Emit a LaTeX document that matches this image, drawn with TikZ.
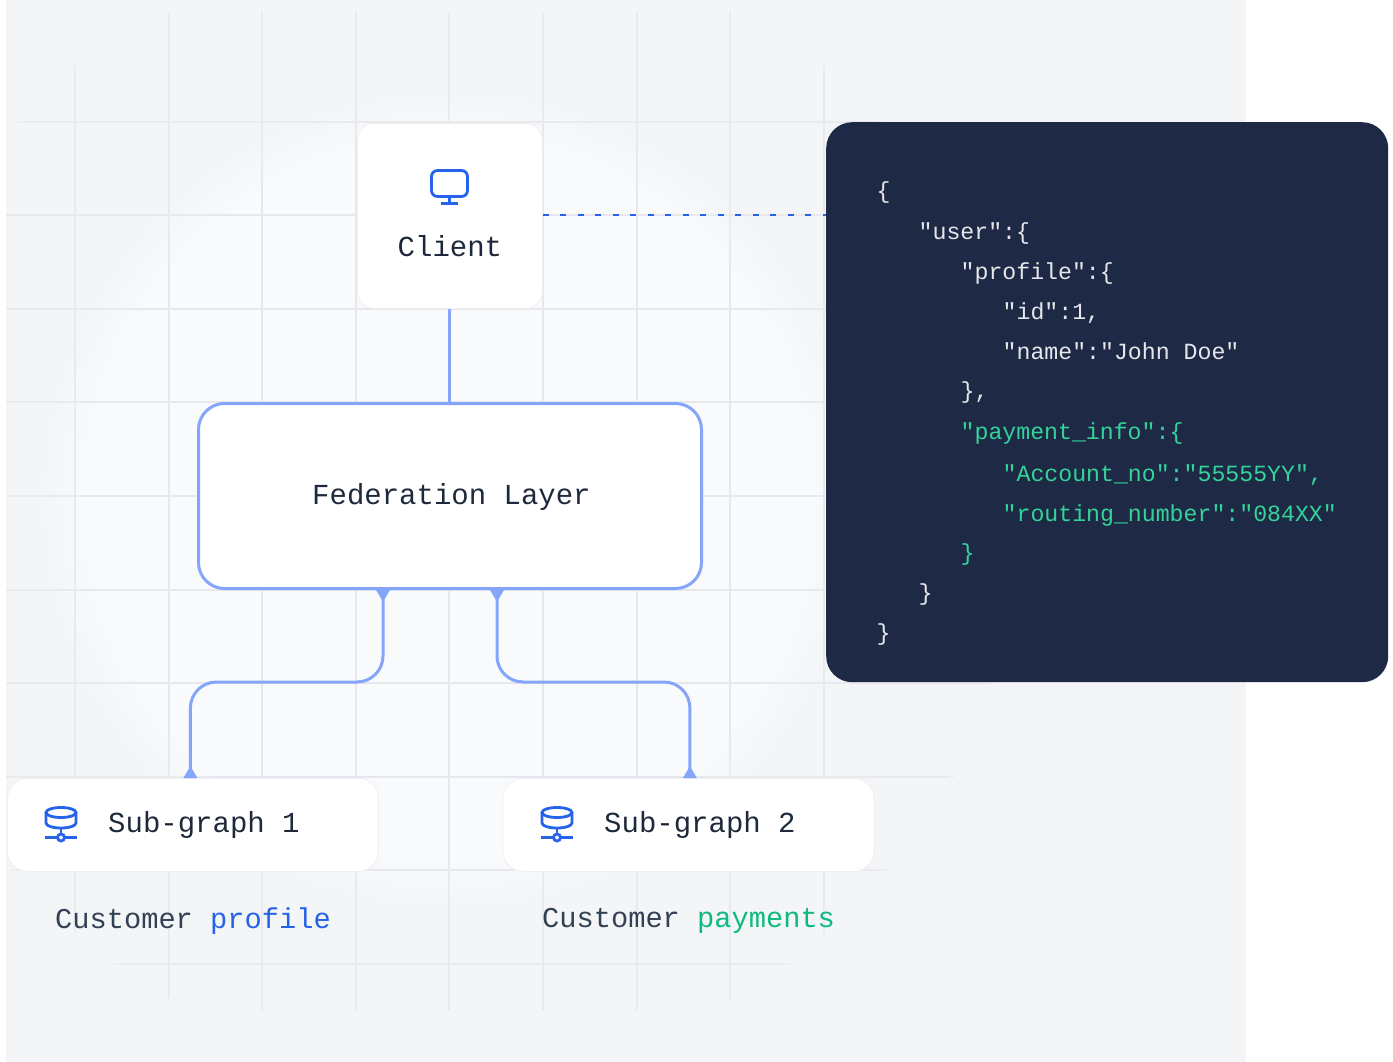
\documentclass[tikz,border=0pt]{standalone}
\usepackage{fontspec}
\setmonofont{Liberation Mono}
\usetikzlibrary{arrows.meta}
\definecolor{panelbg}{HTML}{F4F5F7}
\definecolor{panelmid}{HTML}{F9FAFB}
\definecolor{gridline}{HTML}{E6E8EE}
\definecolor{linkblue}{HTML}{84A5FA}
\definecolor{iconblue}{HTML}{2563EB}
\definecolor{inkdark}{HTML}{1E293B}
\definecolor{inkgrey}{HTML}{334155}
\definecolor{codebg}{HTML}{1E2945}
\definecolor{codelight}{HTML}{E5E7EB}
\definecolor{codegreen}{HTML}{34D399}
\definecolor{labelgreen}{HTML}{10B981}
\tikzset{
  card/.style={draw=gridline!70,fill=white,line width=.8pt,rounded corners=17pt,anchor=north west,inner sep=0pt},
  link/.style={draw=linkblue,line width=3pt,rounded corners=26pt,{Triangle[reversed,width=13pt,length=12pt]}-{Triangle[reversed,width=13pt,length=12pt]}},
  icon/.style={draw=iconblue,line width=2.8pt},
  codeline/.style={anchor=base west,inner sep=0pt,font=\ttfamily\fontsize{23.2}{28}\selectfont,text=codelight},
  title/.style={inner sep=0pt,anchor=base west,font=\ttfamily\fontsize{29}{34}\selectfont,text=inkdark},
  caption/.style={title,font=\ttfamily\fontsize{28.7}{34}\selectfont,text=inkgrey}
}
\begin{document}
\begin{tikzpicture}[x=1pt,y=-1pt]
  \useasboundingbox (0,0) rectangle (1393,1062);

  % backdrop
  \fill[panelbg] (6,0) rectangle (1246,1062);
  \begin{scope}
    \clip (6,0) rectangle (1246,1062);
    \clip (450,500) circle (575);
    \fill[panelmid] (6,0) rectangle (1246,1062);
    \foreach \gx in {75,169,262,356,449,543,637,730,824}
      \draw[gridline,line width=1.6pt] (\gx,12) -- (\gx,1010);
    \foreach \gy in {122,215,309,402,496,590,683,777,870,964}
      \draw[gridline,line width=1.6pt] (6,\gy) -- (1246,\gy);
    % rings of the backdrop colour hide the grid towards the rim
    \foreach \rr in {365,375,...,565}
      \fill[panelbg,opacity=.09,even odd rule] (450,500) circle (580) (450,500) circle (\rr);
    \fill[panelbg,opacity=.5,even odd rule] (450,500) circle (580) (450,500) circle (570);
  \end{scope}

  % boxes
  \node[card,minimum width=185pt,minimum height=185pt] (client) at (357,123) {};
  \node[card,draw=linkblue,line width=3pt,rounded corners=26pt,minimum width=503pt,minimum height=185pt] (fed) at (197,402) {};
  \node[card,rounded corners=20pt,minimum width=371pt,minimum height=93pt] (sub1) at (7,778) {};
  \node[card,rounded corners=20pt,minimum width=371pt,minimum height=93pt] (sub2) at (502.5,778) {};
  \node[anchor=north west,fill=codebg,rounded corners=26pt,minimum width=562pt,minimum height=560pt,inner sep=0pt] (code) at (826,122) {};

  % connectors
  \draw[iconblue,line width=2pt,dash pattern=on 6pt off 11.5pt] (client.east |- 0,215) -- (code.west |- 0,215);
  \draw[linkblue,line width=3pt] (client.south) -- (fed.north -| client.south);
  \path[link] ([xshift=-67pt]fed.south) |- (288,682) -| ([xshift=-2.5pt]sub1.north);
  \path[link] ([xshift=47pt]fed.south) |- (594,682) -| ([xshift=1.5pt]sub2.north);

  % texts
  \node[title] (clienttext) at (397.5,256) {Client};
  \node[title] (fedtext) at (312,504) {Federation Layer};
  \node[title] (sub1text) at (108,832) {Sub-graph 1};
  \node[title] (sub2text) at (604,832) {Sub-graph 2};
  \node[caption] (label1) at (55,928.5) {Customer \textcolor{iconblue}{profile}};
  \node[caption] (label2) at (542,927) {Customer \textcolor{labelgreen}{payments}};

  % json
  \begin{scope}[every node/.style={codeline}]
    \node (c1)  at (876.5,199) {\{};
    \node (c2)  at (918.5,239) {"user":\{};
    \node (c3)  at (960.5,279) {"profile":\{};
    \node (c4)  at (1002.5,319) {"id":1,};
    \node (c5)  at (1002.5,359) {"name":"John Doe"};
    \node (c6)  at (960.5,398) {\},};
    \node[text=codegreen] (c7)  at (960.5,439) {"payment\_info":\{};
    \node[text=codegreen] (c8)  at (1002.5,481) {"Account\_no":"55555YY",};
    \node[text=codegreen] (c9)  at (1002.5,521) {"routing\_number":"084XX"};
    \node[text=codegreen] (c10) at (960.5,560) {\}};
    \node (c11) at (918.5,600) {\}};
    \node (c12) at (876.5,640) {\}};
  \end{scope}

  % monitor icon
  \draw[icon,rounded corners=6pt] (431.5,170.5) rectangle (467.5,196.5);
  \draw[icon] (449.5,196.5) -- (449.5,203.5);
  \draw[icon] (441,203.5) -- (458,203.5);

  % database icons
  \foreach \ox in {0,496} {
    \begin{scope}[xshift=\ox pt]
      \draw[icon] (61,812.5) ellipse [x radius=15,y radius=5];
      \draw[icon] (46,812.5) -- (46,823) arc[start angle=180,end angle=0,x radius=15,y radius=5] -- (76,812.5);
      \draw[icon] (61,828) -- (61,833.5);
      \draw[icon] (45,837.5) -- (57.5,837.5) (64.5,837.5) -- (77,837.5);
      \draw[icon] (61,837.5) circle (3.5);
    \end{scope}
  }
\end{tikzpicture}
\end{document}
